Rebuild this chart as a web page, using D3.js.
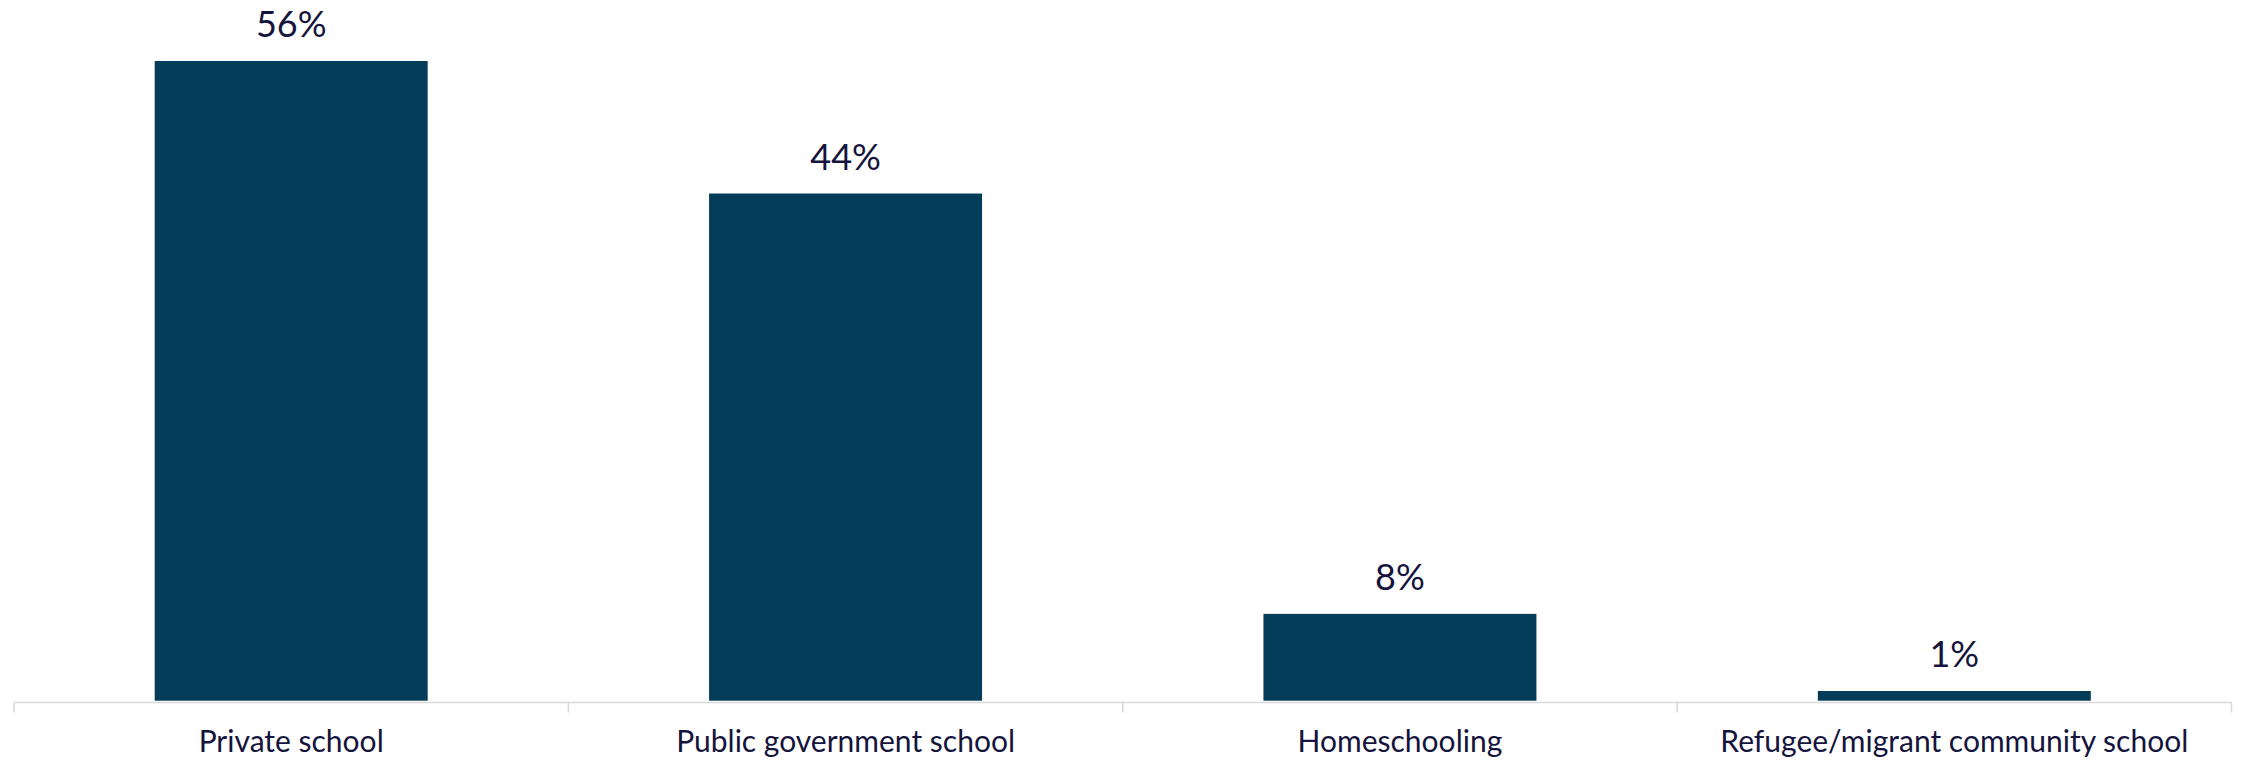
<!DOCTYPE html>
<html>
<head>
<meta charset="utf-8">
<script src="https://cdn.jsdelivr.net/npm/d3@7"></script>
<style>
  html, body { margin: 0; padding: 0; background: #ffffff; }
  svg { display: block; }
</style>
</head>
<body>
<svg id="chart" width="2244" height="761"></svg>
<script>
const categories = ["Private school", "Public government school", "Homeschooling", "Refugee/migrant community school"];
const values = [56.0, 44.4, 7.6, 0.85];
const valueLabels = ["56%", "44%", "8%", "1%"];

const W = 2244, H = 761;
const baseY = 700.7;
const svg = d3.select("#chart");

const x = d3.scaleBand()
  .domain(categories)
  .range([14, 2231.5])
  .paddingInner(0.5076)
  .paddingOuter(0.2538);

const y = d3.scaleLinear()
  .domain([0, 56])
  .range([baseY, 61]);

const fontFam = "Lato, 'Open Sans', sans-serif";

// bars
svg.append("g").selectAll("rect")
  .data(categories)
  .join("rect")
  .attr("x", d => x(d))
  .attr("width", x.bandwidth())
  .attr("y", (d, i) => y(values[i]))
  .attr("height", (d, i) => baseY - y(values[i]))
  .attr("fill", "#033d59");

// axis line and ticks at category boundaries
const axisY = 702.5;
const r = x.range();
const axisG = svg.append("g");
axisG.append("line")
  .attr("x1", r[0]).attr("x2", r[1])
  .attr("y1", axisY).attr("y2", axisY)
  .attr("stroke", "#d9d9d9").attr("stroke-width", 1.6);
const bounds = d3.range(categories.length + 1).map(i => r[0] + i * x.step());
axisG.selectAll("line.tick")
  .data(bounds)
  .join("line")
  .attr("class", "tick")
  .attr("x1", d => d).attr("x2", d => d)
  .attr("y1", axisY).attr("y2", axisY + 10)
  .attr("stroke", "#d9d9d9").attr("stroke-width", 1.6);

// category labels
svg.append("g").selectAll("text")
  .data(categories)
  .join("text")
  .attr("x", d => x(d) + x.bandwidth() / 2)
  .attr("y", 751.7)
  .attr("text-anchor", "middle")
  .attr("font-family", fontFam)
  .attr("font-size", 30)
  .attr("fill", "#14143c")
  .text(d => d);

// value labels
svg.append("g").selectAll("text")
  .data(categories)
  .join("text")
  .attr("x", d => x(d) + x.bandwidth() / 2)
  .attr("y", (d, i) => y(values[i]) - 24)
  .attr("text-anchor", "middle")
  .attr("font-family", fontFam)
  .attr("font-size", 36)
  .attr("fill", "#14143c")
  .text((d, i) => valueLabels[i]);
</script>
</body>
</html>
